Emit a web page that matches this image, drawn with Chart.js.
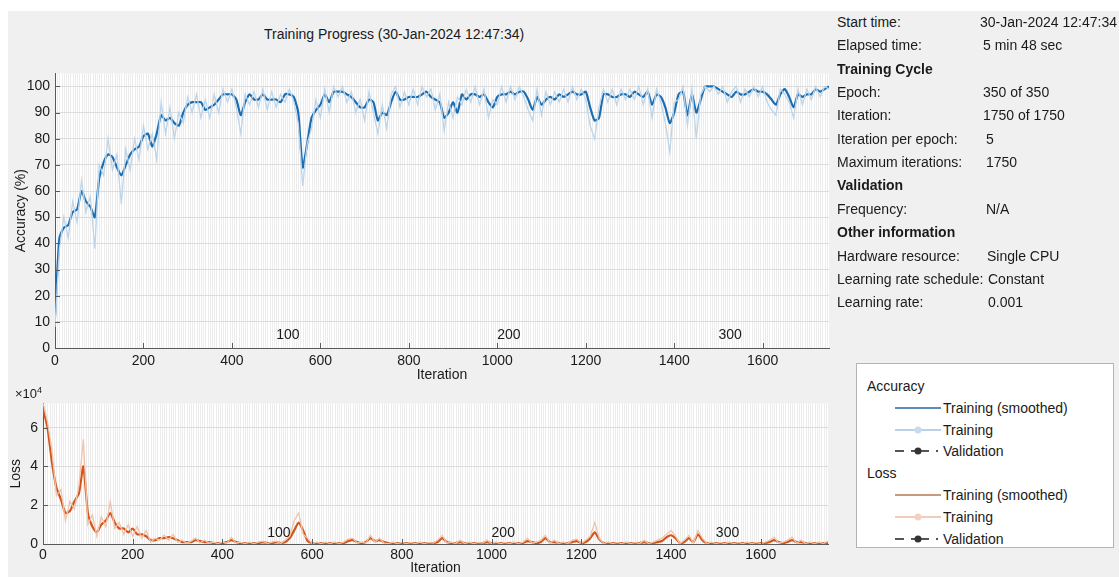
<!DOCTYPE html>
<html>
<head>
<meta charset="utf-8">
<script src="https://cdn.jsdelivr.net/npm/chart.js@4"></script>
<style>
  html, body { margin: 0; padding: 0; }
  body { width: 1119px; height: 577px; background: #f0f0f0; position: relative; overflow: hidden;
         font-family: "Liberation Sans", Arial, Helvetica, sans-serif; color: #1a1a1a; }
  .abs { position: absolute; white-space: nowrap; }
  #topstrip { left: 0; top: 0; width: 1119px; height: 11px; background: #fff; }
  #leftstrip { left: 0; top: 0; width: 8px; height: 577px; background: #fff; }
  #title { left: 264px; top: 26px; font-size: 14px; }
  .info { font-size: 14px; line-height: 18px; }
  .hdr { font-weight: bold; font-size: 14px; }
  #legend { left: 856px; top: 363px; width: 258px; height: 185px; background: #fff; border: 1px solid #b4b4b4; box-sizing: border-box; }
  .lg { position: absolute; font-size: 14px; white-space: nowrap; line-height: 18px; }
  svg.s { position: absolute; }
  #x10 { left: 15px; top: 385px; font-size: 13px; }
  #x10 sup { font-size: 9px; }
  canvas { position: absolute; }
</style>
</head>
<body>
<div id="topstrip" class="abs"></div>
<div id="leftstrip" class="abs"></div>
<div id="title" class="abs">Training Progress (30-Jan-2024 12:47:34)</div>

<canvas id="acc" width="840" height="330" style="left:0;top:60px"></canvas>
<canvas id="loss" width="840" height="187" style="left:0;top:390px"></canvas>
<div id="x10" class="abs">×10<sup>4</sup></div>

<div id="info"></div>

<div id="legend" class="abs"></div>

<script>
// ---------------- data ----------------
const sampleStep = 10;          // iterations between stored samples
const maxIteration = 1750;
const iterPerEpoch = 5;
const iterations = Array.from({length: maxIteration / sampleStep + 1}, (_, i) => i * sampleStep);

const accSmoothed = [
  12,42,46,47,52,53,60,56,54,50,
  65,71,74,73,69,66,70,74,76,77,
  81,82,77,82,89,87,88,86,85,90,
  93,94,94,94,91,92,93,95,97,97,
  97,95,89,94,97,95,95,97,95,95,
  95,94,97,97,96,90,69,78,88,91,
  93,97,94,98,98,98,97,96,94,92,
  92,95,94,87,90,89,94,98,95,95,
  96,96,96,97,98,96,95,94,88,90,
  94,90,97,95,97,97,96,97,94,92,
  96,97,97,98,97,98,98,95,91,96,
  93,95,96,95,97,96,97,98,97,97,
  98,92,87,88,97,97,96,96,97,97,
  96,98,97,96,98,93,97,96,92,86,
  90,97,98,89,97,90,95,100,100,100,
  99,98,97,96,98,97,97,98,99,98,
  98,97,95,93,97,99,96,92,97,96,
  97,97,99,98,99,100
];
const accRaw = [
  8,38,50,42,56,48,64,52,58,38,
  70,66,80,68,74,55,76,68,80,72,
  85,76,82,72,94,82,92,80,90,86,
  96,90,97,88,95,88,97,90,99,94,
  99,92,82,97,93,98,92,99,91,98,
  92,97,94,99,94,86,62,78,84,95,
  88,99,90,100,96,100,94,98,90,95,
  87,98,90,82,93,84,97,100,92,98,
  93,99,93,100,96,99,91,97,83,94,
  88,96,93,99,94,100,93,99,88,95,
  93,100,94,100,95,100,96,91,87,99,
  89,98,93,98,94,99,94,100,95,99,
  95,85,80,92,99,94,99,93,99,95,
  99,95,100,93,99,88,99,94,86,75,
  94,95,100,85,99,80,97,100,98,100,
  97,100,94,98,100,94,99,96,100,96,
  100,94,91,89,99,97,94,88,99,93,
  99,95,100,96,100,99
];
// loss values in units of 10^4
const lossSmoothed = [
  7.0,6.0,4.2,2.9,2.3,1.6,1.7,2.2,2.6,4.0,
  1.6,0.9,0.6,1.0,1.2,1.6,1.1,0.8,0.8,0.6,
  0.8,0.5,0.5,0.4,0.2,0.2,0.3,0.3,0.35,0.3,
  0.2,0.1,0.1,0.1,0.2,0.15,0.1,0.1,0.05,0.05,
  0.05,0.1,0.2,0.1,0.05,0.05,0.05,0.05,0.05,0.1,
  0.05,0.05,0.1,0.05,0.1,0.3,0.7,1.1,0.7,0.15,
  0.05,0.05,0.05,0.05,0.05,0.05,0.05,0.05,0.15,0.2,
  0.1,0.05,0.1,0.3,0.15,0.2,0.1,0.05,0.05,0.05,
  0.05,0.05,0.05,0.05,0.05,0.05,0.05,0.05,0.1,0.3,
  0.1,0.05,0.05,0.1,0.05,0.05,0.05,0.05,0.05,0.1,
  0.05,0.05,0.05,0.05,0.05,0.05,0.05,0.05,0.15,0.1,
  0.05,0.1,0.3,0.1,0.1,0.05,0.05,0.05,0.1,0.15,
  0.05,0.1,0.3,0.6,0.25,0.05,0.05,0.05,0.05,0.05,
  0.05,0.05,0.05,0.05,0.1,0.05,0.05,0.1,0.15,0.35,
  0.45,0.3,0.05,0.1,0.3,0.1,0.5,0.2,0.05,0.05,
  0.05,0.05,0.05,0.05,0.05,0.05,0.05,0.05,0.05,0.05,
  0.05,0.05,0.1,0.2,0.1,0.05,0.1,0.2,0.1,0.1,
  0.05,0.05,0.05,0.05,0.05,0.05
];
const lossRaw = [
  7.3,6.3,4.8,2.5,2.8,1.2,2.2,1.8,3.0,5.4,
  1.0,1.5,0.4,1.4,0.9,2.2,0.8,1.1,0.5,1.0,
  0.4,0.9,0.3,0.7,0.1,0.3,0.2,0.45,0.2,0.5,
  0.1,0.2,0.05,0.15,0.3,0.05,0.2,0.05,0.1,0.02,
  0.1,0.05,0.35,0.05,0.1,0.02,0.1,0.02,0.1,0.15,
  0.02,0.1,0.15,0.02,0.2,0.4,1.2,1.6,0.5,0.3,
  0.02,0.1,0.02,0.1,0.02,0.1,0.02,0.1,0.25,0.3,
  0.05,0.1,0.05,0.45,0.1,0.3,0.05,0.02,0.1,0.02,
  0.08,0.02,0.08,0.02,0.1,0.02,0.08,0.05,0.2,0.45,
  0.05,0.1,0.02,0.2,0.02,0.1,0.02,0.08,0.05,0.2,
  0.02,0.1,0.02,0.08,0.02,0.1,0.02,0.1,0.3,0.05,
  0.1,0.2,0.45,0.05,0.2,0.02,0.1,0.02,0.2,0.25,
  0.02,0.2,0.4,1.1,0.3,0.02,0.1,0.02,0.08,0.02,
  0.1,0.02,0.08,0.02,0.2,0.02,0.1,0.2,0.3,0.5,
  0.7,0.4,0.02,0.2,0.45,0.05,0.7,0.3,0.02,0.1,
  0.02,0.08,0.02,0.1,0.02,0.08,0.02,0.1,0.02,0.08,
  0.02,0.1,0.2,0.35,0.05,0.1,0.2,0.35,0.05,0.2,
  0.02,0.1,0.02,0.1,0.02,0.15
];

const xTicks = [0, 200, 400, 600, 800, 1000, 1200, 1400, 1600];
const accTicks = [0, 10, 20, 30, 40, 50, 60, 70, 80, 90, 100];
const lossTicks = [0, 2, 4, 6];
const epochLabels = [100, 200, 300];

const infoRows = [
  ["Start time:", "30-Jan-2024 12:47:34", 980],
  ["Elapsed time:", "5 min 48 sec", 983],
  ["Training Cycle", null],
  ["Epoch:", "350 of 350", 983],
  ["Iteration:", "1750 of 1750", 983],
  ["Iteration per epoch:", "5", 986],
  ["Maximum iterations:", "1750", 986],
  ["Validation", null],
  ["Frequency:", "N/A", 986],
  ["Other information", null],
  ["Hardware resource:", "Single CPU", 987],
  ["Learning rate schedule:", "Constant", 988],
  ["Learning rate:", "0.001", 988]
];

const legendGroups = [
  { title: "Accuracy", items: [
    { text: "Training (smoothed)", color: "#5b8db8", marker: false, dash: false },
    { text: "Training", color: "#b9d2e8", marker: "#c6dbee", dash: false },
    { text: "Validation", color: "#555555", marker: "#333333", dash: true } ] },
  { title: "Loss", items: [
    { text: "Training (smoothed)", color: "#c79a7c", marker: false, dash: false },
    { text: "Training", color: "#efcdb8", marker: "#f3d2bf", dash: false },
    { text: "Validation", color: "#555555", marker: "#333333", dash: true } ] }
];

// ---------------- info panel ----------------
const info = document.getElementById('info');
infoRows.forEach((r, i) => {
  const y = 13 + i * 23.35;
  const l = document.createElement('div');
  l.className = 'abs info' + (r[1] === null ? ' hdr' : '');
  l.style.left = '837px'; l.style.top = y + 'px';
  l.textContent = r[0];
  info.appendChild(l);
  if (r[1] !== null) {
    const v = document.createElement('div');
    v.className = 'abs info';
    v.style.left = r[2] + 'px'; v.style.top = y + 'px';
    v.textContent = r[1];
    info.appendChild(v);
  }
});

// ---------------- legend ----------------
const lg = document.getElementById('legend');
let row = 0;
legendGroups.forEach(g => {
  const t = document.createElement('div');
  t.className = 'lg'; t.style.left = '10px'; t.style.top = (13 + row * 21.8) + 'px';
  t.textContent = g.title; lg.appendChild(t); row++;
  g.items.forEach(it => {
    const cy = 22 + row * 21.8;
    const svg = document.createElementNS('http://www.w3.org/2000/svg', 'svg');
    svg.setAttribute('class', 's'); svg.setAttribute('width', '50'); svg.setAttribute('height', '12');
    svg.style.left = '36px'; svg.style.top = (cy - 6) + 'px';
    const ln = document.createElementNS('http://www.w3.org/2000/svg', 'line');
    ln.setAttribute('x1', '2'); ln.setAttribute('x2', '48'); ln.setAttribute('y1', '6'); ln.setAttribute('y2', '6');
    ln.setAttribute('stroke', it.color); ln.setAttribute('stroke-width', '2');
    if (it.dash) { ln.setAttribute('x2', '46'); ln.setAttribute('stroke-dasharray', '9 7 18 7 2 100'); }
    svg.appendChild(ln);
    if (it.marker) {
      const c = document.createElementNS('http://www.w3.org/2000/svg', 'circle');
      c.setAttribute('cx', '25'); c.setAttribute('cy', '6'); c.setAttribute('r', '3.5');
      c.setAttribute('fill', it.marker);
      svg.appendChild(c);
    }
    lg.appendChild(svg);
    const tx = document.createElement('div');
    tx.className = 'lg'; tx.style.left = '86px'; tx.style.top = (cy - 9) + 'px';
    tx.textContent = it.text; lg.appendChild(tx);
    row++;
  });
});

// ---------------- charts ----------------
const FONT = "'Liberation Sans', Arial, Helvetica, sans-serif";
const AXIS = '#5a5a5a';

const framePlugin = {
  id: 'frame',
  beforeDraw(chart) {
    const { ctx, chartArea: a, scales: { x } } = chart;
    ctx.save();
    ctx.fillStyle = '#ffffff';
    ctx.fillRect(a.left, a.top, a.right - a.left, a.bottom - a.top);
    ctx.strokeStyle = '#ececec';
    ctx.lineWidth = 1;
    ctx.beginPath();
    for (let it = iterPerEpoch; it < maxIteration; it += iterPerEpoch) {
      const px = Math.round(x.getPixelForValue(it)) + 0.5;
      ctx.moveTo(px, a.top); ctx.lineTo(px, a.bottom);
    }
    ctx.stroke();
    ctx.restore();
  },
  afterDatasetsDraw(chart, args, opts) {
    const { ctx, chartArea: a, scales: { x, y } } = chart;
    ctx.save();
    ctx.strokeStyle = AXIS; ctx.lineWidth = 1;
    ctx.beginPath();
    y.ticks.forEach(t => { const py = Math.round(y.getPixelForValue(t.value)) + 0.5; ctx.moveTo(a.left, py); ctx.lineTo(a.left + 5, py); });
    x.ticks.forEach(t => { const px = Math.round(x.getPixelForValue(t.value)) + 0.5; ctx.moveTo(px, a.bottom); ctx.lineTo(px, a.bottom - 5); });
    ctx.stroke();
    ctx.fillStyle = '#1a1a1a';
    ctx.font = '14px ' + FONT;
    ctx.textAlign = 'left'; ctx.textBaseline = 'middle';
    epochLabels.forEach(e => {
      ctx.fillText(String(e), x.getPixelForValue(e * iterPerEpoch), a.bottom - opts.labelOffset);
    });
    ctx.restore();
  }
};

function pts(vals) { return iterations.map((it, i) => ({ x: it, y: vals[i] })); }

function makeChart(id, cfg) {
  return new Chart(document.getElementById(id), {
    type: 'line',
    data: { datasets: [
      { label: 'Training', data: pts(cfg.raw), borderColor: cfg.rawColor, borderWidth: 1.3, pointRadius: 0, tension: 0 },
      { label: 'Training (smoothed)', data: pts(cfg.smooth), borderColor: cfg.smoothColor, borderWidth: 2.2, pointRadius: 0, tension: 0.2 }
    ]},
    options: {
      responsive: false, animation: false, events: [],
      layout: { padding: cfg.padding },
      plugins: { legend: { display: false }, tooltip: { enabled: false }, frame: { labelOffset: cfg.labelOffset } },
      scales: {
        x: {
          type: 'linear', min: 0, max: maxIteration,
          afterBuildTicks: s => { s.ticks = xTicks.map(v => ({ value: v })); },
          afterFit: s => { s.height = cfg.xHeight; },
          grid: { display: false, drawTicks: false },
          border: { display: true, color: AXIS, width: 1 },
          ticks: { padding: cfg.xPad, color: '#1a1a1a', font: { size: 14, family: FONT }, maxRotation: 0, autoSkip: false,
                   callback: v => String(v) },
          title: { display: true, text: 'Iteration', color: '#1a1a1a', font: { size: 14, family: FONT }, padding: { top: 0, bottom: cfg.xTitlePad } }
        },
        y: {
          type: 'linear', min: 0, max: cfg.yMax,
          afterBuildTicks: s => { s.ticks = cfg.yTicks.map(v => ({ value: v })); },
          afterFit: s => { s.width = cfg.yWidth; },
          grid: { color: '#dcdcdc', drawTicks: false },
          border: { display: true, color: AXIS, width: 1 },
          ticks: { padding: 5, color: '#1a1a1a', font: { size: 14, family: FONT }, callback: v => String(v) },
          title: { display: true, text: cfg.yTitle, color: '#1a1a1a', font: { size: 14, family: FONT }, padding: { top: cfg.yTitlePad, bottom: 0 } }
        }
      }
    },
    plugins: [framePlugin]
  });
}

makeChart('acc', {
  raw: accRaw, smooth: accSmoothed, rawColor: '#bcd5ea', smoothColor: '#1c6db0',
  padding: { top: 10, right: 11, left: 0, bottom: 0 }, xHeight: 42, yWidth: 55,
  xPad: 5, xTitlePad: 6, yMax: 105, yTicks: accTicks, yTitle: 'Accuracy (%)', yTitlePad: 13, labelOffset: 13
});
makeChart('loss', {
  raw: lossRaw, smooth: lossSmoothed, rawColor: '#f0c4aa', smoothColor: '#d2561c',
  padding: { top: 12, right: 12, left: 0, bottom: 0 }, xHeight: 33, yWidth: 43,
  xPad: 3, xTitlePad: 0, yMax: 7.25, yTicks: lossTicks, yTitle: 'Loss', yTitlePad: 8, labelOffset: 11
});
</script>
</body>
</html>
